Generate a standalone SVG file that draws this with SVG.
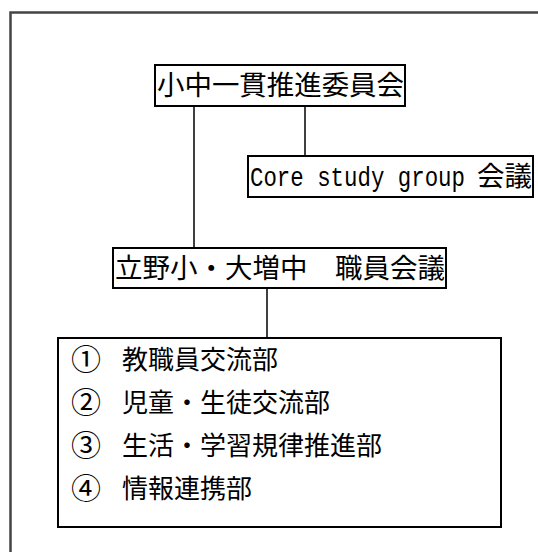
<svg xmlns="http://www.w3.org/2000/svg" width="538" height="552" viewBox="0 0 538 552">
<style>
.box{fill:#fff;stroke:#000;stroke-width:2}
.t{font-family:"Noto Sans CJK JP","Noto Sans CJK SC",sans-serif;font-size:27.5px;fill:#000}
.m{font-family:"Liberation Mono",monospace;font-size:28px;fill:#000}
.l{font-family:"Noto Sans CJK JP","Noto Sans CJK SC",sans-serif;font-size:26px;fill:#000}
.n{font-family:"Noto Sans CJK JP","Noto Sans CJK SC",sans-serif;font-size:30px;fill:#000}
.c{stroke:#000;stroke-width:1.5;fill:none}
</style>
<rect width="538" height="552" fill="#fff"/>
<path d="M10.5,552 V12.5 H538" fill="none" stroke="#444" stroke-width="2.5"/>
<g id="connectors">
<line class="c" x1="194" y1="107" x2="194" y2="248"/>
<line class="c" x1="305" y1="107" x2="305" y2="156"/>
<line class="c" x1="267" y1="288" x2="267" y2="338"/>
</g>
<g id="node-committee">
<rect class="box" x="155" y="65" width="250" height="41"/>
<text class="t" x="157" y="95" textLength="247" lengthAdjust="spacingAndGlyphs">小中一貫推進委員会</text>
</g>
<g id="node-core">
<rect class="box" x="248" y="156" width="285" height="41"/>
<text class="m" transform="translate(250,186) scale(0.8,1)">Core study group</text>
<text class="t" x="477" y="186">会議</text>
</g>
<g id="node-staff">
<rect class="box" x="113" y="248" width="333" height="40"/>
<text class="t" x="115" y="278" textLength="330" lengthAdjust="spacingAndGlyphs">立野小・大増中　職員会議</text>
</g>
<g id="node-departments">
<rect class="box" x="58" y="338" width="443" height="189" stroke-width="2.5"/>
<text class="n" x="71" y="370">①</text>
<text class="l" x="122" y="369">教職員交流部</text>
<text class="n" x="71" y="413">②</text>
<text class="l" x="122" y="412">児童・生徒交流部</text>
<text class="n" x="71" y="456">③</text>
<text class="l" x="122" y="455">生活・学習規律推進部</text>
<text class="n" x="71" y="499">④</text>
<text class="l" x="122" y="498">情報連携部</text>
</g>
</svg>
